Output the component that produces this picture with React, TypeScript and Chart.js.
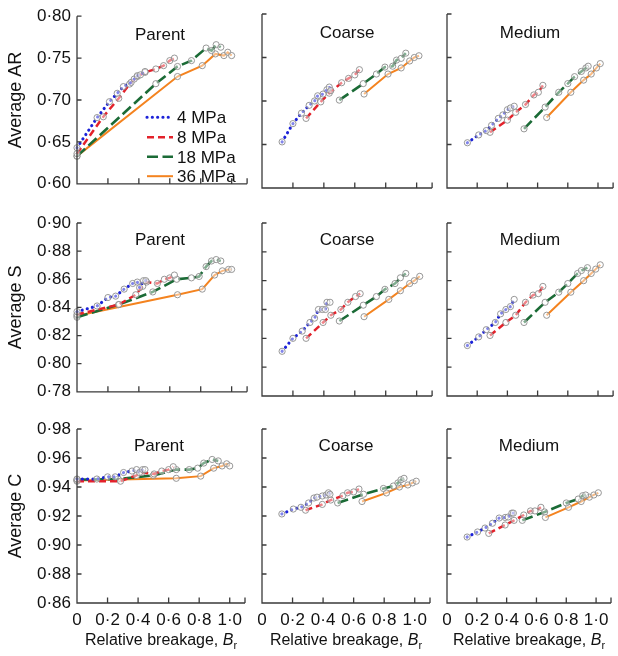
import React, { useEffect, useRef } from 'react';
import { Chart, registerables } from 'chart.js';
Chart.register(...registerables);

// ---------- data ----------
const SERIES_LABELS = ['4 MPa', '8 MPa', '18 MPa', '36 MPa'];
const SAMPLE_TITLES = ['Parent', 'Coarse', 'Medium'];
const ROW_TITLES = ['Average AR', 'Average S', 'Average C'];

const X_TICKS = [0, 0.2, 0.4, 0.6, 0.8, 1.0, 1.1];
const Y_TICKS_AR = [0.6, 0.65, 0.7, 0.75, 0.8];
const Y_TICKS_S = [0.78, 0.8, 0.82, 0.84, 0.86, 0.88, 0.9];
const Y_TICKS_C = [0.86, 0.88, 0.9, 0.92, 0.94, 0.96, 0.98];

// Parent – AR
const PARENT_AR_4 = [[0, 0.643], [0.13, 0.679], [0.21, 0.698], [0.26, 0.708], [0.30, 0.716], [0.35, 0.721], [0.37, 0.725], [0.39, 0.729], [0.41, 0.730], [0.44, 0.734]];
const PARENT_AR_8 = [[0, 0.636], [0.17, 0.680], [0.27, 0.702], [0.34, 0.719], [0.39, 0.728], [0.44, 0.733], [0.51, 0.737], [0.56, 0.741], [0.60, 0.747], [0.63, 0.750]];
const PARENT_AR_18 = [[0, 0.633], [0.51, 0.7195], [0.65, 0.740], [0.74, 0.747], [0.835, 0.762], [0.87, 0.759], [0.90, 0.766], [0.93, 0.763]];
const PARENT_AR_36 = [[0, 0.633], [0.65, 0.728], [0.81, 0.741], [0.895, 0.755], [0.95, 0.753], [0.975, 0.757], [1.0, 0.753]];
// Coarse – AR
const COARSE_AR_4 = [[0.13, 0.653], [0.20, 0.674], [0.255, 0.686], [0.305, 0.695], [0.34, 0.700], [0.36, 0.706], [0.395, 0.708], [0.42, 0.713], [0.435, 0.716], [0.445, 0.712]];
const COARSE_AR_8 = [[0.285, 0.680], [0.38, 0.699], [0.435, 0.709], [0.515, 0.721], [0.56, 0.726], [0.60, 0.730], [0.63, 0.736]];
const COARSE_AR_18 = [[0.50, 0.701], [0.655, 0.720], [0.74, 0.731], [0.795, 0.739], [0.845, 0.740], [0.87, 0.747], [0.90, 0.749], [0.93, 0.755]];
const COARSE_AR_36 = [[0.66, 0.708], [0.815, 0.731], [0.90, 0.738], [0.955, 0.746], [0.985, 0.750], [1.015, 0.752]];
// Medium – AR
const MEDIUM_AR_4 = [[0.135, 0.652], [0.21, 0.661], [0.26, 0.666], [0.295, 0.672], [0.34, 0.680], [0.37, 0.684], [0.40, 0.690], [0.42, 0.692], [0.445, 0.694]];
const MEDIUM_AR_8 = [[0.285, 0.664], [0.40, 0.678], [0.455, 0.687], [0.52, 0.696], [0.575, 0.707], [0.605, 0.710], [0.635, 0.718]];
const MEDIUM_AR_18 = [[0.51, 0.668], [0.65, 0.693], [0.74, 0.710], [0.80, 0.720], [0.845, 0.728], [0.89, 0.734], [0.92, 0.738], [0.935, 0.740]];
const MEDIUM_AR_36 = [[0.66, 0.681], [0.82, 0.710], [0.905, 0.724], [0.955, 0.731], [0.99, 0.738], [1.015, 0.743]];
// Parent – S
const PARENT_S_4 = [[0, 0.837], [0.13, 0.841], [0.20, 0.847], [0.25, 0.848], [0.305, 0.853], [0.36, 0.857], [0.39, 0.858], [0.405, 0.854], [0.43, 0.859], [0.445, 0.859]];
const PARENT_S_8 = [[0, 0.835], [0.27, 0.842], [0.38, 0.849], [0.425, 0.855], [0.45, 0.858], [0.52, 0.857], [0.565, 0.860], [0.60, 0.861], [0.63, 0.863]];
const PARENT_S_18 = [[0, 0.833], [0.27, 0.842], [0.49, 0.851], [0.645, 0.860], [0.74, 0.861], [0.79, 0.862], [0.835, 0.869], [0.87, 0.873], [0.90, 0.874], [0.93, 0.873]];
const PARENT_S_36 = [[0, 0.834], [0.65, 0.849], [0.81, 0.853], [0.89, 0.863], [0.94, 0.866], [0.98, 0.867], [1.0, 0.867]];
// Coarse – S
const COARSE_S_4 = [[0.13, 0.811], [0.20, 0.820], [0.26, 0.825], [0.31, 0.831], [0.34, 0.834], [0.365, 0.840], [0.39, 0.840], [0.41, 0.840], [0.42, 0.845], [0.44, 0.845]];
const COARSE_S_8 = [[0.285, 0.820], [0.395, 0.831], [0.445, 0.836], [0.51, 0.840], [0.555, 0.845], [0.605, 0.849], [0.635, 0.851]];
const COARSE_S_18 = [[0.50, 0.832], [0.655, 0.843], [0.74, 0.849], [0.795, 0.854], [0.86, 0.858], [0.895, 0.862], [0.93, 0.865]];
const COARSE_S_36 = [[0.66, 0.835], [0.82, 0.847], [0.895, 0.853], [0.955, 0.858], [0.985, 0.860], [1.02, 0.863]];
// Medium – S
const MEDIUM_S_4 = [[0.135, 0.815], [0.21, 0.821], [0.26, 0.826], [0.32, 0.831], [0.355, 0.837], [0.39, 0.840], [0.42, 0.842], [0.445, 0.847]];
const MEDIUM_S_8 = [[0.285, 0.822], [0.39, 0.831], [0.455, 0.836], [0.52, 0.845], [0.57, 0.850], [0.605, 0.851], [0.635, 0.856]];
const MEDIUM_S_18 = [[0.51, 0.831], [0.65, 0.845], [0.74, 0.852], [0.80, 0.858], [0.865, 0.865], [0.89, 0.867], [0.93, 0.869]];
const MEDIUM_S_36 = [[0.66, 0.836], [0.82, 0.852], [0.905, 0.860], [0.955, 0.865], [0.985, 0.868], [1.015, 0.871]];
// Parent – C
const PARENT_C_4 = [[0, 0.9455], [0.13, 0.9455], [0.20, 0.947], [0.25, 0.947], [0.305, 0.950], [0.36, 0.951], [0.39, 0.952], [0.41, 0.950], [0.43, 0.952], [0.445, 0.952]];
const PARENT_C_8 = [[0, 0.944], [0.285, 0.944], [0.39, 0.948], [0.425, 0.950], [0.505, 0.949], [0.555, 0.951], [0.60, 0.952], [0.63, 0.954]];
const PARENT_C_18 = [[0, 0.945], [0.27, 0.9455], [0.50, 0.948], [0.65, 0.952], [0.735, 0.952], [0.79, 0.953], [0.83, 0.9565], [0.885, 0.959], [0.925, 0.958]];
const PARENT_C_36 = [[0, 0.9445], [0.65, 0.946], [0.81, 0.9475], [0.895, 0.953], [0.95, 0.9545], [0.98, 0.956], [1.0, 0.9545]];
// Coarse – C
const COARSE_C_4 = [[0.13, 0.9214], [0.205, 0.9248], [0.255, 0.926], [0.305, 0.929], [0.34, 0.9324], [0.36, 0.933], [0.395, 0.9338], [0.42, 0.9345], [0.435, 0.936], [0.445, 0.935]];
const COARSE_C_8 = [[0.285, 0.924], [0.395, 0.928], [0.45, 0.931], [0.53, 0.934], [0.56, 0.936], [0.60, 0.9366], [0.635, 0.9386]];
const COARSE_C_18 = [[0.495, 0.929], [0.665, 0.935], [0.795, 0.939], [0.86, 0.9407], [0.89, 0.9428], [0.91, 0.945], [0.93, 0.946]];
const COARSE_C_36 = [[0.655, 0.930], [0.815, 0.9359], [0.90, 0.940], [0.955, 0.9414], [0.985, 0.9428], [1.01, 0.944]];
// Medium – C
const MEDIUM_C_4 = [[0.135, 0.9055], [0.205, 0.909], [0.255, 0.9117], [0.305, 0.915], [0.35, 0.9186], [0.39, 0.919], [0.41, 0.9193], [0.435, 0.922], [0.445, 0.922]];
const MEDIUM_C_8 = [[0.28, 0.908], [0.39, 0.9138], [0.45, 0.917], [0.515, 0.9207], [0.56, 0.9235], [0.59, 0.9235], [0.63, 0.926]];
const MEDIUM_C_18 = [[0.505, 0.917], [0.655, 0.9228], [0.80, 0.929], [0.88, 0.9317], [0.91, 0.934], [0.93, 0.9345]];
const MEDIUM_C_36 = [[0.66, 0.919], [0.815, 0.926], [0.90, 0.930], [0.955, 0.933], [0.985, 0.9345], [1.015, 0.936]];

const ROW_Y_TICKS = [Y_TICKS_AR, Y_TICKS_S, Y_TICKS_C];
const PANEL_SERIES = [
  [[PARENT_AR_4, PARENT_AR_8, PARENT_AR_18, PARENT_AR_36], [COARSE_AR_4, COARSE_AR_8, COARSE_AR_18, COARSE_AR_36], [MEDIUM_AR_4, MEDIUM_AR_8, MEDIUM_AR_18, MEDIUM_AR_36]],
  [[PARENT_S_4, PARENT_S_8, PARENT_S_18, PARENT_S_36], [COARSE_S_4, COARSE_S_8, COARSE_S_18, COARSE_S_36], [MEDIUM_S_4, MEDIUM_S_8, MEDIUM_S_18, MEDIUM_S_36]],
  [[PARENT_C_4, PARENT_C_8, PARENT_C_18, PARENT_C_36], [COARSE_C_4, COARSE_C_8, COARSE_C_18, COARSE_C_36], [MEDIUM_C_4, MEDIUM_C_8, MEDIUM_C_18, MEDIUM_C_36]],
];

// ---------- styles / layout ----------
const FONT = "'Liberation Sans', Arial, Helvetica, sans-serif";
const TEXT_COLOR = '#111';
const AXIS_COLOR = '#3a3a3a';
const SERIES_COLORS = ['#1c22d8', '#e3222b', '#1b6b36', '#f4831f'];
const SERIES_DASH = [[0.1, 5.2], [7, 4], [11, 4.5], []];
const SERIES_CAP = ['round', 'butt', 'butt', 'butt'];
const SERIES_WIDTH = [3.1, 2.5, 2.6, 2];

// canvas geometry per column / row
const COLS = [
  { left: 0, width: 252, yW: 77, padR: 2 },
  { left: 250, width: 187, yW: 12, padR: 2 },
  { left: 435, width: 183, yW: 12, padR: 1 },
];
const ROWS = [
  { top: 0, height: 200, padT: 14, xH: 12, titleOff: 23.5 },
  { top: 205, height: 203, padT: 18, xH: 12, titleOff: 21.5 },
  { top: 412, height: 244, padT: 17, xH: 53, titleOff: 21.5 },
];

const fmtDot = (v: number, d: number) => v.toFixed(d).replace('.', '\u00B7');

const axesPlugin = {
  id: 'innerAxes',
  afterDraw(chart: any) {
    const { ctx, chartArea: a, scales } = chart;
    ctx.save();
    ctx.strokeStyle = AXIS_COLOR;
    ctx.lineWidth = 1.3;
    ctx.beginPath();
    ctx.moveTo(a.left, a.top);
    ctx.lineTo(a.left, a.bottom);
    ctx.lineTo(a.right, a.bottom);
    for (const t of scales.y.ticks) {
      const y = scales.y.getPixelForValue(t.value);
      ctx.moveTo(a.left, y);
      ctx.lineTo(a.left + 4.5, y);
    }
    for (const t of scales.x.ticks) {
      const x = scales.x.getPixelForValue(t.value);
      ctx.moveTo(x, a.bottom);
      ctx.lineTo(x, a.bottom - 5.5);
    }
    ctx.stroke();
    ctx.restore();
  },
};

function makeTextPlugin(row: number, col: number) {
  return {
    id: 'panelText',
    afterDatasetsDraw(chart: any) {
      const { ctx, chartArea: a } = chart;
      ctx.save();
      ctx.fillStyle = TEXT_COLOR;
      ctx.font = `17px ${FONT}`;
      ctx.textAlign = 'center';
      ctx.textBaseline = 'alphabetic';
      ctx.fillText(SAMPLE_TITLES[col], (a.left + a.right) / 2 - (col === 0 ? 2 : 0), a.top + ROWS[row].titleOff);

      if (row === 0 && col === 0) {
        // legend
        const offs = [101, 121, 140.5, 160];
        for (let i = 0; i < 4; i++) {
          const y = a.top + offs[i];
          ctx.save();
          ctx.strokeStyle = SERIES_COLORS[i];
          ctx.lineWidth = SERIES_WIDTH[i];
          ctx.setLineDash(SERIES_DASH[i]);
          ctx.lineCap = SERIES_CAP[i] as CanvasLineCap;
          ctx.beginPath();
          ctx.moveTo(a.left + 70, y);
          ctx.lineTo(a.left + 96, y);
          ctx.stroke();
          ctx.restore();
          ctx.textAlign = 'left';
          ctx.fillText(SERIES_LABELS[i], a.left + 100, y + 6);
        }
      }

      if (row === 2) {
        // x-axis title: Relative breakage, B_r
        const main = 'Relative breakage, ';
        ctx.font = `16px ${FONT}`;
        const w1 = ctx.measureText(main).width;
        ctx.font = `italic 16px ${FONT}`;
        const w2 = ctx.measureText('B').width;
        ctx.font = `11px ${FONT}`;
        const w3 = ctx.measureText('r').width;
        const total = w1 + w2 + w3;
        let x = (a.left + a.right) / 2 - total / 2;
        const y = a.bottom + 42;
        ctx.textAlign = 'left';
        ctx.font = `16px ${FONT}`;
        ctx.fillText(main, x, y);
        x += w1;
        ctx.font = `italic 16px ${FONT}`;
        ctx.fillText('B', x, y);
        x += w2;
        ctx.font = `11px ${FONT}`;
        ctx.fillText('r', x, y + 4);
      }
      ctx.restore();
    },
  };
}

function Panel({ row, col }: { row: number; col: number }) {
  const ref = useRef<HTMLCanvasElement>(null);
  const C = COLS[col];
  const R = ROWS[row];
  useEffect(() => {
    if (!ref.current) return;
    const yTicks = ROW_Y_TICKS[row];
    const series = PANEL_SERIES[row][col];
    const chart = new Chart(ref.current, {
      type: 'line',
      data: {
        datasets: series.map((pts, i) => ({
          label: SERIES_LABELS[i],
          data: pts.map(([x, y]) => ({ x, y })),
          borderColor: SERIES_COLORS[i],
          borderWidth: SERIES_WIDTH[i],
          borderDash: SERIES_DASH[i],
          borderCapStyle: SERIES_CAP[i] as any,
          pointRadius: 3.1,
          pointBorderColor: '#8c8c8c',
          pointBorderWidth: 0.9,
          pointBackgroundColor: 'rgba(255,255,255,0.45)',
          tension: 0,
          fill: false,
          clip: false as any,
        })),
      },
      options: {
        animation: false,
        responsive: false,
        events: [],
        layout: { padding: { left: 0, right: C.padR, top: R.padT, bottom: 0 } },
        plugins: { legend: { display: false }, tooltip: { enabled: false } },
        scales: {
          x: {
            type: 'linear',
            min: 0,
            max: 1.1,
            grid: { display: false, drawTicks: false },
            border: { display: false },
            ticks: {
              display: row === 2,
              padding: 7,
              autoSkip: false,
              maxRotation: 0,
              minRotation: 0,
              color: TEXT_COLOR,
              font: { family: FONT, size: 17 },
              callback: (v: any) => {
                const n = Number(v);
                if (n === 0) return '0';
                if (n > 1.05) return '';
                return fmtDot(n, 1);
              },
            },
            afterBuildTicks: (s: any) => {
              s.ticks = X_TICKS.map((v) => ({ value: v }));
            },
            afterFit: (s: any) => {
              s.height = R.xH;
            },
          },
          y: {
            type: 'linear',
            min: yTicks[0],
            max: yTicks[yTicks.length - 1],
            grid: { display: false, drawTicks: false },
            border: { display: false },
            title: {
              display: col === 0,
              text: ROW_TITLES[row],
              color: TEXT_COLOR,
              font: { family: FONT, size: 18 },
              padding: { top: 5, bottom: 0 },
            },
            ticks: {
              display: col === 0,
              padding: 6,
              autoSkip: false,
              color: TEXT_COLOR,
              font: { family: FONT, size: 17 },
              callback: (v: any) => fmtDot(Number(v), 2),
            },
            afterBuildTicks: (s: any) => {
              s.ticks = yTicks.map((v) => ({ value: v }));
            },
            afterFit: (s: any) => {
              s.width = C.yW;
            },
          },
        },
      },
      plugins: [axesPlugin, makeTextPlugin(row, col)],
    });
    return () => chart.destroy();
  }, [row, col]);
  return (
    <canvas
      ref={ref}
      width={C.width}
      height={R.height}
      style={{ position: 'absolute', left: C.left, top: R.top, width: C.width, height: R.height }}
    />
  );
}

export default function App() {
  const cells = [];
  for (let r = 0; r < 3; r++) for (let c = 0; c < 3; c++) cells.push(<Panel key={`${r}-${c}`} row={r} col={c} />);
  return (
    <div style={{ position: 'absolute', left: 0, top: 0, width: 618, height: 656, background: '#fff', overflow: 'hidden' }}>
      {cells}
    </div>
  );
}
